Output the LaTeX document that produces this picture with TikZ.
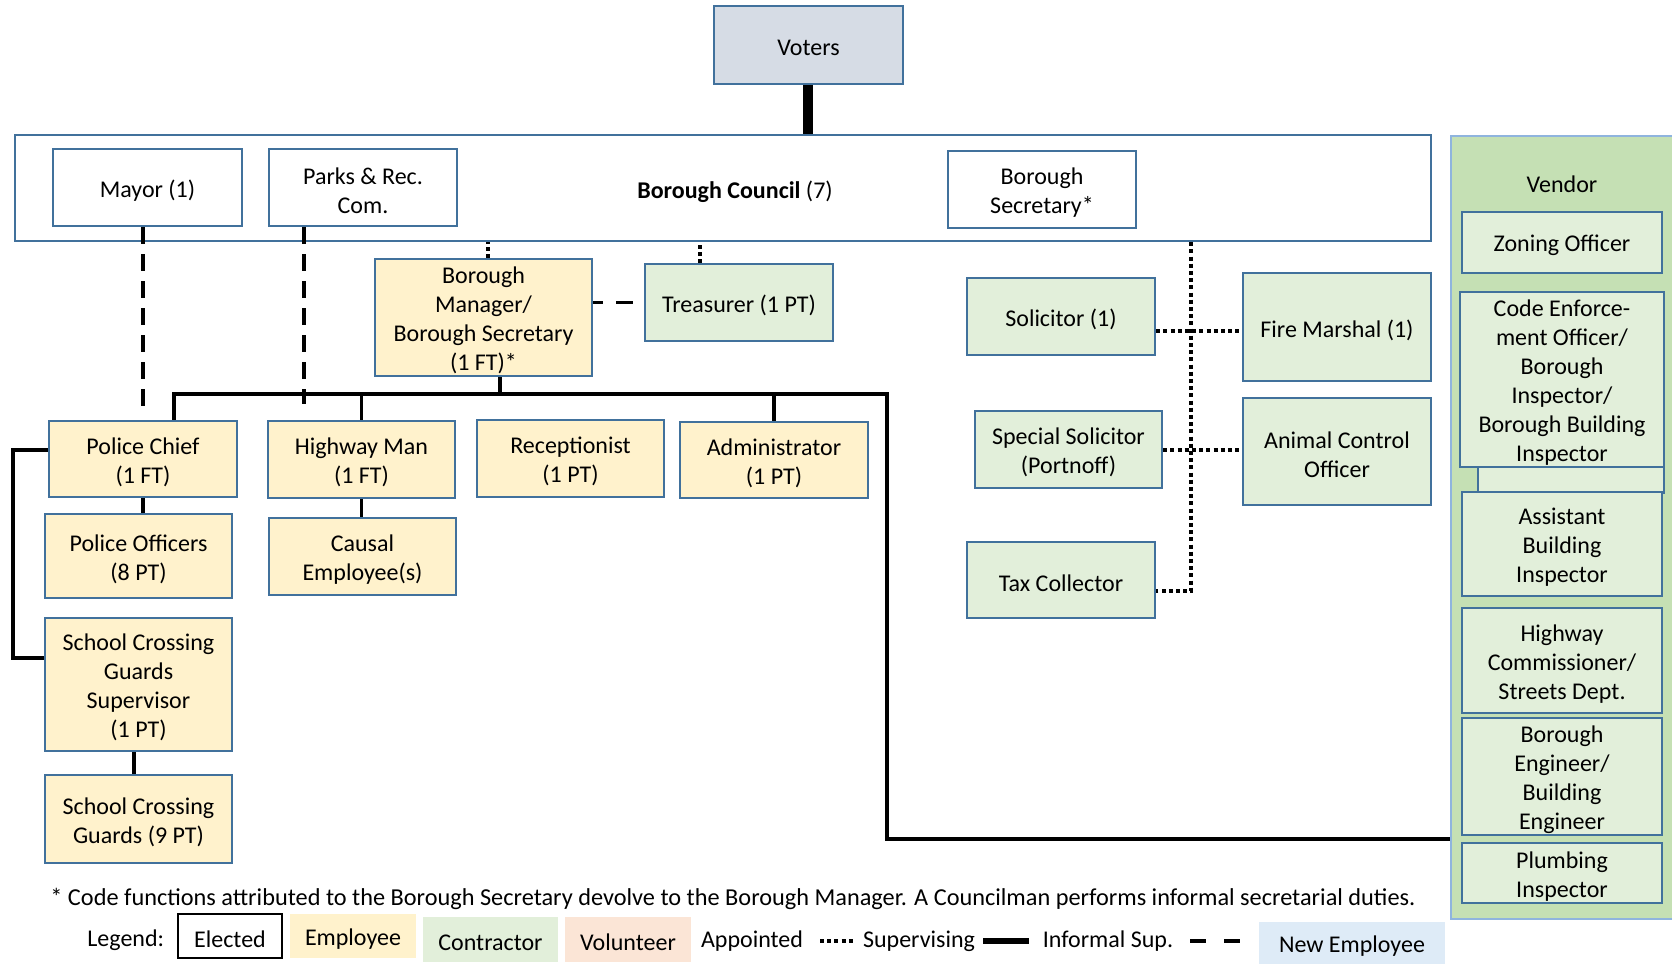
\documentclass[tikz,border=0pt]{standalone}
\usepackage{fontspec}
\setmainfont{Carlito}
\definecolor{bdr}{HTML}{41719C}
\definecolor{empf}{HTML}{FFF2CC}
\definecolor{conf}{HTML}{E2EFDA}
\definecolor{venf}{HTML}{C5E0B4}
\definecolor{venb}{HTML}{8FB4DE}
\definecolor{votf}{HTML}{D6DCE5}
\definecolor{volf}{HTML}{FBE5D6}
\definecolor{newf}{HTML}{DEEBF7}
\newcommand{\bx}[7]{\node[#1, minimum width={(#5-#3)*0.5pt}, minimum height={(#6-#4)*0.5pt}] (#2) at ({(#3+#5)/2},{(#4+#6)/2}) {};
 \node[txt, align=center] (#2-t) at ([yshift=-1.6pt]#2.center) {#7};}
\begin{document}
\begin{tikzpicture}[x=0.5pt,y=-0.5pt,
 txt/.style={font=\fontsize{12}{14.5}\selectfont, inner sep=0pt},
 box/.style={draw=bdr, line width=1.1pt, inner sep=0pt},
 elect/.style={box, fill=white},
 emp/.style={box, fill=empf},
 con/.style={box, fill=conf},
 legbox/.style={inner sep=0pt},
 solidc/.style={line width=1.7pt},
 dashc/.style={line width=1.7pt, dash pattern=on 8.5pt off 5pt},
 dotc/.style={line width=2pt, dash pattern=on 2pt off 1.6pt},
]
\useasboundingbox (0,0) rectangle (1672,964);

% Voters and council
\bx{box, fill=votf}{voters}{714}{6}{903}{84}{Voters}
\bx{elect}{council}{15}{135}{1431}{241}{}
\node[txt] (bctext) at (735,191.5) {\textbf{Borough Council} (7)};
\bx{elect}{mayor}{53}{149}{242}{226}{Mayor (1)}
\bx{elect}{parks}{269}{149}{457}{226}{Parks \& Rec.\\Com.}
\bx{elect}{bsec}{948}{151}{1136}{228}{Borough\\Secretary*}

% Employees
\bx{emp}{mgr}{375}{259}{592}{376}{Borough\\Manager/\\Borough Secretary\\(1 FT)*}
\bx{emp}{pc}{49}{421}{237}{497}{Police Chief\\(1 FT)}
\bx{emp}{po}{45}{514}{232}{598}{Police Officers\\(8 PT)}
\bx{emp}{sup}{45}{618}{232}{751}{School Crossing\\Guards\\Supervisor\\(1 PT)}
\bx{emp}{scg}{45}{775}{232}{863}{School Crossing\\Guards (9 PT)}
\bx{emp}{hm}{268}{421}{455}{498}{Highway Man\\(1 FT)}
\bx{emp}{ce}{269}{518}{456}{595}{Causal\\Employee(s)}
\bx{emp}{rec}{477}{420}{664}{497}{Receptionist\\(1 PT)}
\bx{emp}{adm}{680}{422}{868}{498}{Administrator\\(1 PT)}

% Contractors
\bx{con}{tr}{645}{264}{833}{341}{Treasurer (1 PT)}
\bx{con}{sol}{967}{278}{1155}{355}{Solicitor (1)}
\bx{con}{fm}{1243}{273}{1431}{381}{Fire Marshal (1)}
\bx{con}{ss}{975}{411}{1162}{488}{Special Solicitor\\(Portnoff)}
\bx{con}{ac}{1243}{398}{1431}{505}{Animal Control\\Officer}
\bx{con}{tc}{967}{542}{1155}{618}{Tax Collector}

% Vendor column
\bx{draw=venb, line width=1.1pt, fill=venf, inner sep=0pt}{ven}{1451}{136}{1690}{919}{}
\node[txt] (ventitle) at (1562,184.5) {Vendor};
\bx{con}{zo}{1462}{212}{1662}{273}{Zoning Officer}
\bx{con}{back}{1478}{389}{1664}{493}{}
\bx{con}{code}{1460}{292}{1664}{467}{Code Enforce-\\ment Officer/\\Borough\\Inspector/\\Borough Building\\Inspector}
\bx{con}{abi}{1462}{492}{1662}{596}{Assistant\\Building\\Inspector}
\bx{con}{hc}{1462}{608}{1662}{713}{Highway\\Commissioner/\\Streets Dept.}
\bx{con}{be}{1462}{718}{1662}{835}{Borough\\Engineer/\\Building\\Engineer}
\bx{con}{pi}{1462}{843}{1662}{903}{Plumbing\\Inspector}

% Connectors
\draw[line width=5pt] (voters.south -| 808,0) -- (council.north -| 808,0);
\draw[dashc, shorten >=5.5pt] (mayor.south -| pc.north) -- (pc.north);
\draw[dashc, shorten >=8pt] ([xshift=18pt]parks.south west) -- ([xshift=18pt]parks.south west |- hm.north);
\draw[dotc] ([xshift=2pt]mgr.north) -- ([xshift=2pt]mgr.north |- council.south);
\draw[dotc] ([xshift=-19.5pt]tr.north) -- ([xshift=-19.5pt]tr.north |- council.south);
\draw[line width=1.7pt, dash pattern=on 5pt off 6.5pt on 8.5pt off 10pt] (mgr.east |- tr.west) -- (tr.west);

\coordinate (busL) at (174,394);
\coordinate (busR) at (887,394);
\coordinate (corner) at (887,839);
\draw[solidc] ([xshift=8.25pt]mgr.south) -- ([xshift=8.25pt]mgr.south |- busL);
\draw[solidc, line join=miter] (busL |- pc.north) -- (busL) -- (busR) -- (corner) -- (corner -| ven.west);
\draw[solidc] (hm.north) -- (hm.north |- busL);
\draw[solidc] (adm.north) -- (adm.north |- busL);
\draw[solidc] (pc.south) -- (pc.south |- po.north);
\draw[solidc] ([xshift=-2.25pt]sup.south) -- ([xshift=-2.25pt]scg.north);
\draw[solidc] (hm.south) -- (hm.south |- ce.north);
\coordinate (brk) at (13,0);
\draw[line width=2.2pt, line join=miter] ([yshift=4.5pt]pc.west) -- ([yshift=4.5pt]pc.west -| brk) -- ([yshift=13.25pt]sup.west -| brk) -- ([yshift=13.25pt]sup.west);

\coordinate (dv) at (1191,591);
\draw[dotc] (dv |- council.south) -- (dv) -- (dv -| tc.east);
\draw[dotc] ([yshift=-7pt]sol.east) -- ([yshift=-7pt]sol.east -| fm.west);
\draw[dotc] (ss.east) -- (ss.east -| ac.west);

% Footnote and legend
\node[txt, font=\fontsize{12.15}{14.5}\selectfont, anchor=west] (fn) at (50,898.5) {* Code functions attributed to the Borough Secretary devolve to the Borough Manager. A Councilman performs informal secretarial duties.};
\node[txt, anchor=west] (leg) at (87,940.5) {Legend:};
\bx{legbox, draw=black, line width=1pt, fill=white}{lel}{178}{914}{282}{958}{Elected}
\bx{legbox, fill=empf}{lemp}{290}{914}{416}{958}{Employee}
\bx{legbox, fill=conf}{lcon}{423}{917}{558}{962}{Contractor}
\bx{legbox, fill=volf}{lvol}{565}{917}{691}{962}{Volunteer}
\node[txt] (lapp) at (752,941) {Appointed};
\node[txt] (lsup) at (919,941) {Supervising};
\node[txt] (linf) at (1108,941) {Informal Sup.};
\bx{legbox, fill=newf}{lnew}{1259}{922}{1445}{964}{New Employee}
\coordinate (d1a) at (820,941);
\coordinate (d1b) at (853,941);
\coordinate (d2a) at (983,941);
\coordinate (d2b) at (1029,941);
\coordinate (d3a) at (1190,941);
\coordinate (d3b) at (1241,941);
\draw[dotc] (d1a) -- (d1b);
\draw[line width=2.6pt] (d2a) -- (d2b);
\draw[line width=2.2pt, dash pattern=on 8pt off 9pt] (d3a) -- (d3b);
\end{tikzpicture}
\end{document}
